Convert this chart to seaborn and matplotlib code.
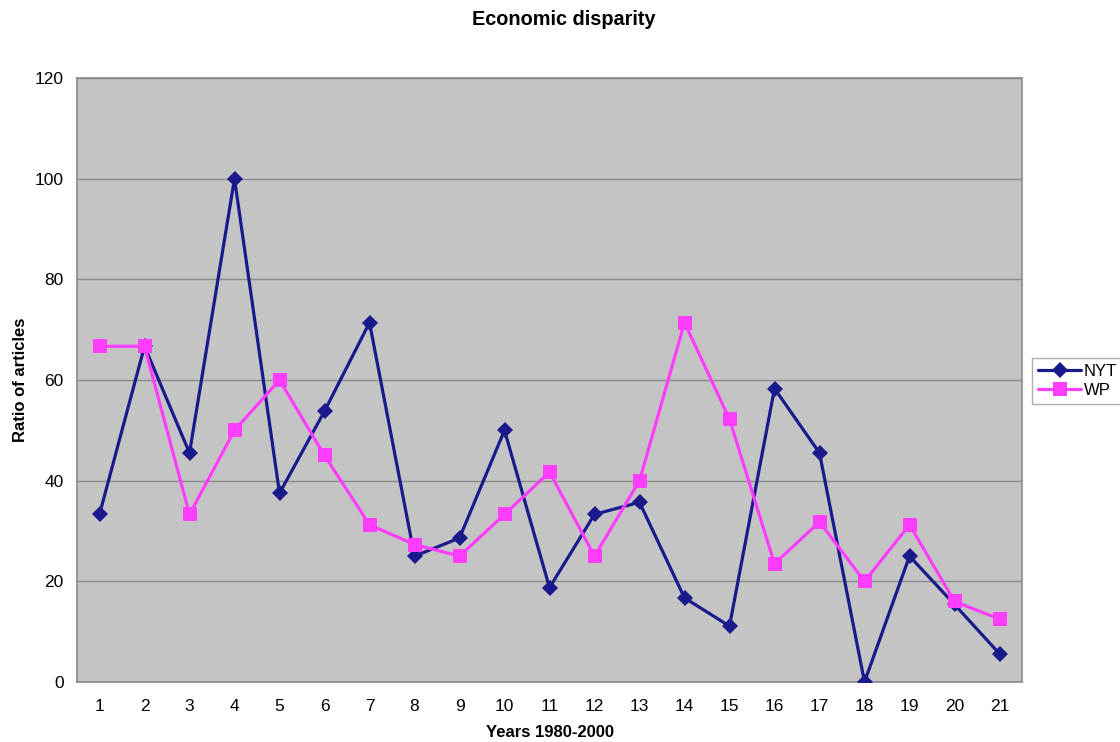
import numpy as np
import pandas as pd
import matplotlib
matplotlib.use("Agg")
import matplotlib.pyplot as plt
from matplotlib.ticker import FixedLocator
import seaborn as sns

years = list(range(1, 22))
nyt = [33.3, 66.7, 45.5, 100.0, 37.5, 53.8, 71.4, 25.0, 28.6, 50.0, 18.75,
       33.3, 35.7, 16.7, 11.1, 58.3, 45.5, 0.0, 25.0, 15.4, 5.6]
wp = [66.7, 66.7, 33.3, 50.0, 60.0, 45.0, 31.25, 27.3, 25.0, 33.3, 41.7,
      25.0, 40.0, 71.4, 52.2, 23.5, 31.8, 20.0, 31.25, 16.0, 12.5]
series_names = ["NYT", "WP"]
colors = {"NYT": "#1a1a8c", "WP": "#ff3dff"}

df = pd.DataFrame({
    "year": years * 2,
    "value": nyt + wp,
    "paper": ["NYT"] * len(years) + ["WP"] * len(years),
})

sns.set_style("white")
plt.rcParams["font.family"] = ["Liberation Sans", "DejaVu Sans"]
plt.rcParams["text.color"] = "black"
plt.rcParams["axes.labelcolor"] = "black"
plt.rcParams["xtick.labelcolor"] = "black"
plt.rcParams["ytick.labelcolor"] = "black"

fig = plt.figure(figsize=(11.2, 7.42), dpi=100)
ax = fig.add_axes([0.06875, 0.0809, 0.84375, 0.814])
ax.set_facecolor("#c4c4c4")

sns.lineplot(
    data=df, x="year", y="value", hue="paper", style="paper",
    hue_order=series_names, style_order=series_names,
    palette=colors, markers={"NYT": "D", "WP": "s"}, dashes=False,
    linewidth=2.3, markersize=10, markeredgewidth=0, ax=ax, zorder=3,
)
# diamonds a touch smaller than the squares
for line in ax.get_lines():
    if line.get_marker() == "D":
        line.set_markersize(8.5)

ax.set_xlim(0.5, 21.5)
ax.set_ylim(0, 120)
ax.set_yticks(np.arange(0, 121, 20))
ax.set_xticks(years)
ax.xaxis.set_minor_locator(FixedLocator(np.arange(0.5, 22, 1)))
ax.tick_params(axis="x", which="major", length=0, pad=12.5, labelsize=12.5)
ax.tick_params(axis="x", which="minor", length=3.5, color="#808080", direction="out")
ax.tick_params(axis="y", length=3.5, color="#808080", direction="out", pad=6, labelsize=12.5)
ax.yaxis.grid(True, color="#8a8a8a", linewidth=1)
ax.set_axisbelow(True)
for side in ax.spines.values():
    side.set_visible(True)
    side.set_color("#8a8a8a")
    side.set_linewidth(1.2)

ax.set_xlabel("Years 1980-2000", fontsize=12, fontweight="bold")
ax.set_ylabel("Ratio of articles", fontsize=12, fontweight="bold")
ax.xaxis.set_label_coords(0.5, -0.083)
ax.xaxis.label.set_va("center")
ax.yaxis.set_label_coords(-0.0595, 0.5)
ax.yaxis.label.set_va("center")

fig.suptitle("Economic disparity", x=0.503, y=0.974, va="center",
             fontsize=14.3, fontweight="bold")

handles, labels = ax.get_legend_handles_labels()
ax.legend(handles, labels, loc="center", bbox_to_anchor=(0.962, 0.487),
          bbox_transform=fig.transFigure, frameon=True, fancybox=False,
          edgecolor="#9a9a9a", fontsize=12, handlelength=2.6,
          handletextpad=0.15, borderpad=0.35, borderaxespad=0,
          labelspacing=0.25)

fig.savefig("out.png", dpi=100, facecolor="white")
